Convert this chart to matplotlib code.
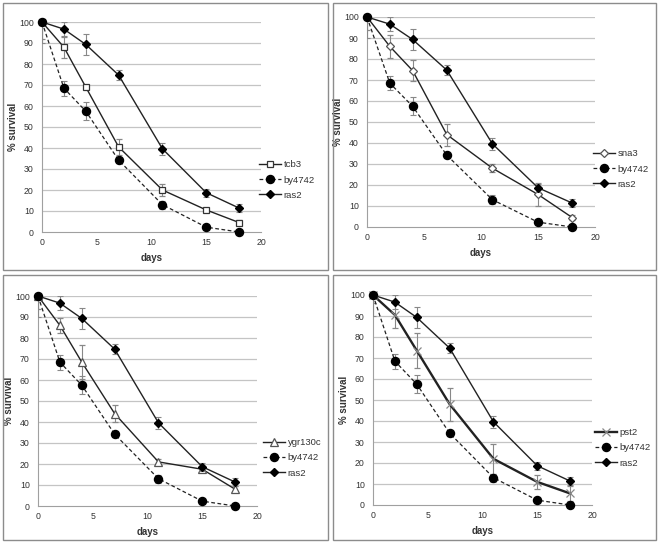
import matplotlib
matplotlib.use("Agg")
import matplotlib.pyplot as plt
from matplotlib.patches import Rectangle

plt.rcParams['font.family'] = ['Liberation Sans', 'DejaVu Sans']

days = [0, 2, 4, 7, 11, 15, 18]

by4742 = [100, 68.5, 57.5, 34.2, 13.0, 2.3, 0.0]
by4742_err = [10, 3.5, 4.2, 1.2, 2.0, 0.6, 0.5]

ras2 = [100, 96.6, 89.3, 74.7, 39.6, 18.7, 11.4]
ras2_err = [0, 3.5, 5.0, 2.3, 3.0, 2.0, 2.0]

tcb3 = [100, 88.0, 69.0, 40.5, 20.0, 10.5, 4.5]
tcb3_err = [8, 5.0, 1.0, 4.0, 3.0, 1.0, 1.2]

sna3 = [100, 86.0, 74.5, 44.0, 28.0, 15.5, 4.5]
sna3_err = [6, 5.5, 5.0, 5.2, 2.0, 5.5, 1.2]

ygr130c = [100, 86.0, 68.5, 44.0, 21.0, 17.5, 8.0]
ygr130c_err = [6, 3.5, 8.0, 4.0, 1.5, 1.5, 1.5]

pst2 = [100, 90.5, 73.5, 48.0, 22.0, 11.0, 5.5]
pst2_err = [4, 6.0, 8.3, 7.8, 7.0, 3.5, 3.5]

x_ticks = [0, 5, 10, 15, 20]
y_ticks = list(range(0, 101, 10))

fig = plt.figure(figsize=(6.61, 5.43), dpi=100)
W, H = 661, 543

# panel frames (pixels: x0, y0, x1, y1 from top-left)
frames = [(3, 3, 328, 270), (333, 3, 656, 270), (3, 275, 328, 540), (333, 275, 656, 540)]
for x0, y0, x1, y1 in frames:
    fig.patches.append(Rectangle((x0 / W, 1 - y1 / H), (x1 - x0) / W, (y1 - y0) / H,
                                 transform=fig.transFigure, fill=False,
                                 edgecolor='#8c8c8c', linewidth=1.0))

# axes pixel boxes: left, top(y=100), right(x=20), bottom(y=0)
ax_boxes = [(42, 22, 261, 232), (367, 17, 595, 227), (38, 296, 257, 506), (373, 295, 592, 505)]
legend_pos = [(259, 180), (593, 169), (263, 458), (595, 448)]

mutants = [
    ("tcb3", tcb3, tcb3_err, dict(marker='s', markersize=4.6, markerfacecolor='white',
                                   markeredgecolor='#333333', markeredgewidth=0.9), 1.0),
    ("sna3", sna3, sna3_err, dict(marker='D', markersize=4.0, markerfacecolor='white',
                                   markeredgecolor='#555555', markeredgewidth=0.9), 1.0),
    ("ygr130c", ygr130c, ygr130c_err, dict(marker='^', markersize=5.2, markerfacecolor='white',
                                           markeredgecolor='#555555', markeredgewidth=0.9), 1.0),
    ("pst2", pst2, pst2_err, dict(marker='x', markersize=5.5, markerfacecolor='none',
                                   markeredgecolor='#888888', markeredgewidth=0.9), 1.7),
]

for (l, t, r, b), (name, vals, errs, mstyle, lw), (lx, ly) in zip(ax_boxes, mutants, legend_pos):
    ax = fig.add_axes([l / W, 1 - b / H, (r - l) / W, (b - t) / H])
    ax.set_xlim(0, 20)
    ax.set_ylim(0, 100)
    for y in y_ticks[1:]:
        ax.axhline(y, color='#c4c4c4', linewidth=0.9, zorder=0)
    for s in ['top', 'right']:
        ax.spines[s].set_visible(False)
    ax.spines['left'].set_color('#a0a0a0')
    ax.spines['bottom'].set_color('#a0a0a0')
    ax.tick_params(axis='y', length=0, labelsize=6.3, colors='#333333', pad=6)
    ax.tick_params(axis='x', length=0, labelsize=6.3, colors='#333333', pad=4.5)
    ax.set_xticks(x_ticks)
    ax.set_yticks(y_ticks)

    h1 = ax.errorbar(days, vals, yerr=errs, color='#222222', linewidth=lw, ecolor='#888888',
                     elinewidth=0.8, capsize=2.0, capthick=0.8, label=name, zorder=3, **mstyle)
    h2 = ax.errorbar(days, by4742, yerr=by4742_err, color='#222222', linewidth=0.9,
                     linestyle=(0, (3, 2)), marker='o', markersize=5.8,
                     markerfacecolor='black', markeredgecolor='black', ecolor='#888888',
                     elinewidth=0.8, capsize=2.0, capthick=0.8, label='by4742', zorder=4)
    h3 = ax.errorbar(days, ras2, yerr=ras2_err, color='#222222', linewidth=1.0, marker='D',
                     markersize=3.6, markerfacecolor='black', markeredgecolor='black',
                     ecolor='#888888', elinewidth=0.8, capsize=2.0, capthick=0.8,
                     label='ras2', zorder=5)
    for h in (h1, h2, h3):
        h[0].set_clip_on(False)

    ax.set_xlabel('days', fontsize=7, fontweight='bold', color='#333333', labelpad=4)
    ax.set_ylabel('% survival', fontsize=7, fontweight='bold', color='#333333', labelpad=1)

    leg = ax.legend(handles=[h1[0], h2[0], h3[0]], labels=[name, 'by4742', 'ras2'],
                    loc='center left', bbox_to_anchor=(lx / W, 1 - ly / H),
                    bbox_transform=fig.transFigure, frameon=False, fontsize=6.8,
                    handlelength=2.3, handletextpad=0.3, labelspacing=0.65,
                    borderaxespad=0, borderpad=0)
    for txt in leg.get_texts():
        txt.set_color('#333333')

fig.savefig('out.png', dpi=100)
